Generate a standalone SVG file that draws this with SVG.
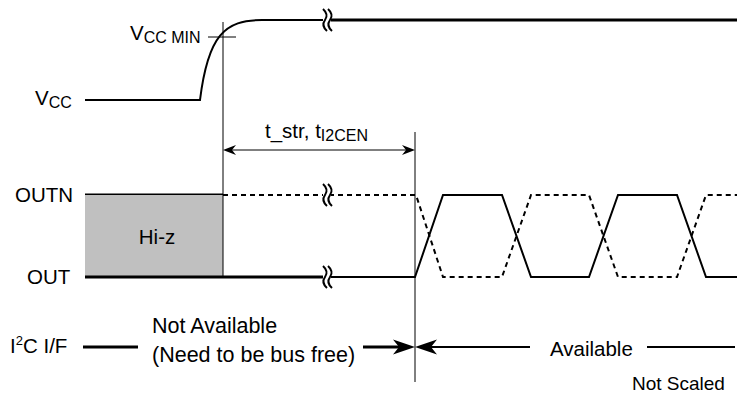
<svg xmlns="http://www.w3.org/2000/svg" width="737" height="398" viewBox="0 0 737 398">
<style>
text{font-family:"Liberation Sans",Arial,sans-serif;font-size:20.5px;fill:#000}
.sub{font-size:16px}
.sup{font-size:13px}
.big{font-size:21.5px}
.small{font-size:19px}
.thick{fill:none;stroke:#000;stroke-width:3}
.mid{fill:none;stroke:#000;stroke-width:2}
.thin{fill:none;stroke:#000;stroke-width:1}
.dash{fill:none;stroke:#000;stroke-width:2;stroke-dasharray:5,4}
.brk{fill:none;stroke:#000;stroke-width:2}
</style>
<defs>
<g id="break">
<rect x="-4" y="-5" width="8" height="10" fill="#fff"/>
<path class="brk" d="M-4,-11 Q2,-5.5 -2,0 Q-6,5.5 0,11 M1,-11 Q7,-5.5 3,0 Q-1,5.5 5,11"/>
</g>
</defs>
<rect width="737" height="398" fill="#fff"/>

<g id="vcc">
<text x="35" y="105">V<tspan class="sub" dy="3">CC</tspan></text>
<path class="mid" d="M85,100 H200 C208,35 225,20 262,20 H325"/>
<path class="thick" d="M329,20 H737"/>
<use href="#break" x="327" y="20"/>
<text x="130" y="40">V<tspan class="sub" dy="3">CC MIN</tspan></text>
<line class="thin" x1="208" y1="37" x2="236" y2="37"/>
</g>

<g id="outn">
<text x="15" y="202">OUTN</text>
<path class="thick" d="M85,195 H223"/>
<path class="dash" d="M223,195 H325 M329,195 H416 L443,277 H502 L531,195 H589 L618,277 H677 L706,195 H737"/>
<use href="#break" x="327" y="195"/>
</g>

<g id="hiz">
<rect x="85" y="195" width="138" height="82" fill="#c0c0c0"/>
<text x="157" y="244" text-anchor="middle">Hi-z</text>
</g>

<g id="out">
<text x="27" y="284">OUT</text>
<path class="thick" d="M85,277 H325"/>
<path class="mid" d="M329,277 H415 L443,195 H502 L531,277 H589 L618,195 H677 L706,277 H737"/>
<use href="#break" x="327" y="277"/>
</g>

<g id="tstr">
<text x="265" y="138">t_str, t<tspan class="sub" dy="3">I2CEN</tspan></text>
</g>

<g id="i2c">
<text x="10" y="353">I<tspan class="sup" dy="-8">2</tspan><tspan dy="8">C I/F</tspan></text>
<text class="big" x="152" y="333">Not Available</text>
<text class="big" x="152" y="362">(Need to be bus free)</text>
<text x="550" y="356">Available</text>
</g>

<g id="note">
<text class="small" x="632" y="390">Not Scaled</text>
</g>

<g id="connectors">
<line class="thin" x1="223" y1="22" x2="223" y2="277"/>
<line class="thin" x1="415" y1="132" x2="415" y2="382"/>
<line class="thin" x1="230" y1="150" x2="408" y2="150"/>
<path d="M223,150 L236,145 L232,150 L236,155 Z"/>
<path d="M415,150 L402,145 L406,150 L402,155 Z"/>
<line class="thick" x1="83" y1="347" x2="138" y2="347"/>
<line class="thick" x1="363" y1="347" x2="400" y2="347"/>
<path d="M415,347 L393,339.5 L399,347 L393,354.5 Z"/>
<path d="M415,347 L437,339.5 L431,347 L437,354.5 Z"/>
<line class="mid" x1="430" y1="347" x2="530" y2="347"/>
<line class="mid" x1="647" y1="347" x2="735" y2="347"/>
</g>
</svg>
